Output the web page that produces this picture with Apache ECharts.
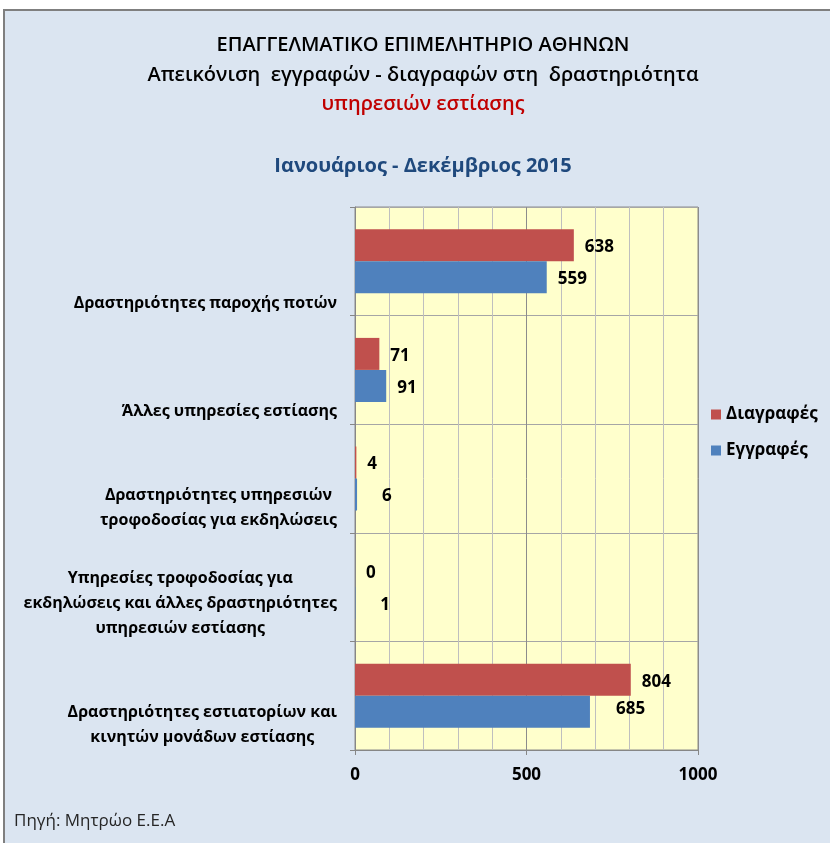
<!DOCTYPE html>
<html>
<head>
<meta charset="utf-8">
<script src="https://cdn.jsdelivr.net/npm/echarts@6/dist/echarts.min.js"></script>
<style>
html,body{margin:0;padding:0;background:#fff;}
#c{width:830px;height:843px;}
</style>
</head>
<body>
<div id="c"></div>
<script>
const categories = [
  'Δραστηριότητες παροχής ποτών',
  'Άλλες υπηρεσίες εστίασης',
  'Δραστηριότητες υπηρεσιών\nτροφοδοσίας για εκδηλώσεις',
  'Υπηρεσίες τροφοδοσίας για\nεκδηλώσεις και άλλες δραστηριότητες\nυπηρεσιών εστίασης',
  'Δραστηριότητες εστιατορίων και\nκινητών μονάδων εστίασης'
];
const seriesNames = ['Διαγραφές', 'Εγγραφές'];
const diagrafes = [638, 71, 4, 0, 804];
const eggrafes = [559, 91, 6, 1, 685];
const xTicks = [0, 500, 1000];

const FONT = 'Open Sans';
// label nudges (style only), mimicking the manually placed labels of the original
const eggLabelNudge = [[0, 0], [0, 0], [14, 0], [14, 0], [15, -5]];

const chart = echarts.init(document.getElementById('c'), null, {renderer: 'canvas'});

const labelStyle = {show: true, position: 'right', distance: 11, fontFamily: FONT, fontSize: 17, fontWeight: 'bold', color: '#000'};

const option = {
  backgroundColor: '#ffffff',
  animation: false,
  textStyle: {fontFamily: FONT},
  graphic: [
    {type: 'rect', z: -10, shape: {x: 4, y: 10, width: 840, height: 850},
     style: {fill: '#DBE5F1', stroke: '#7F7F7F', lineWidth: 2}},
    {type: 'text', x: 423, y: 45, style: {text: 'ΕΠΑΓΓΕΛΜΑΤΙΚΟ ΕΠΙΜΕΛΗΤΗΡΙΟ ΑΘΗΝΩΝ', font: '600 20px "Open Sans"', fill: '#000', align: 'center', verticalAlign: 'middle'}},
    {type: 'text', x: 423, y: 75, style: {text: 'Απεικόνιση  εγγραφών - διαγραφών στη  δραστηριότητα', font: '600 20px "Open Sans"', fill: '#000', align: 'center', verticalAlign: 'middle'}},
    {type: 'text', x: 423, y: 104, style: {text: 'υπηρεσιών εστίασης', font: '600 20px "Open Sans"', fill: '#C00000', align: 'center', verticalAlign: 'middle'}},
    {type: 'text', x: 423, y: 166, style: {text: 'Ιανουάριος - Δεκέμβριος 2015', font: 'bold 20px "Open Sans"', fill: '#1F497D', align: 'center', verticalAlign: 'middle'}},
    {type: 'text', x: 14, y: 821, style: {text: 'Πηγή: Μητρώο Ε.Ε.Α', font: '17px "Open Sans"', fill: '#262626', align: 'left', verticalAlign: 'middle'}}
  ],
  legend: {
    orient: 'vertical', left: 711, top: 403, padding: 0, itemWidth: 10, itemHeight: 10, icon: 'rect', itemGap: 13,
    textStyle: {fontFamily: FONT, fontSize: 17, fontWeight: 'bold', color: '#000', lineHeight: 23},
    data: seriesNames
  },
  grid: {left: 355, top: 207, right: 132, bottom: 93, show: true, backgroundColor: '#FFFFCC', borderColor: '#8C8C8C', borderWidth: 1, containLabel: false},
  xAxis: {
    type: 'value', min: 0, max: 1000, interval: 500,
    axisLine: {show: true, lineStyle: {color: '#868686'}},
    axisTick: {show: true, length: 5, lineStyle: {color: '#868686'}},
    axisLabel: {margin: 17, fontFamily: FONT, fontSize: 17, fontWeight: 'bold', color: '#000',
      formatter: v => xTicks.includes(v) ? String(v) : ''},
    splitLine: {show: true, lineStyle: {color: '#8C8C8C'}},
    minorTick: {show: false, splitNumber: 5},
    minorSplitLine: {show: true, lineStyle: {color: '#BFBFBF'}}
  },
  yAxis: [
    {type: 'category', data: categories, inverse: true,
     axisLine: {show: true, lineStyle: {color: '#868686'}},
     axisTick: {show: true, length: 5, lineStyle: {color: '#868686'}},
     axisLabel: {show: false},
     splitLine: {show: true, lineStyle: {color: '#A6A6A6'}}},
    {type: 'category', data: [''].concat(categories), inverse: true, boundaryGap: false, position: 'left',
     axisLine: {show: false}, axisTick: {show: false}, splitLine: {show: false},
     axisLabel: {interval: 0, margin: 18, align: 'right', verticalAlign: 'bottom',
       formatter: v => v.split('\n').map(l => '{c|' + l + '}').join('\n'),
       rich: {c: {align: 'center', fontFamily: FONT, fontSize: 16, fontWeight: 'bold', color: '#000', lineHeight: 25}}}}
  ],
  series: [
    {name: seriesNames[0], type: 'bar', yAxisIndex: 0, data: diagrafes, barWidth: 32, barGap: '0%',
     itemStyle: {color: '#C0504D'},
     label: Object.assign({offset: [0, 2]}, labelStyle)},
    {name: seriesNames[1], type: 'bar', yAxisIndex: 0, barWidth: 32, barGap: '0%',
     data: eggrafes.map((v, i) => ({value: v, label: {offset: [eggLabelNudge[i][0], eggLabelNudge[i][1] + 2]}})),
     itemStyle: {color: '#4F81BD'},
     label: labelStyle}
  ]
};
chart.setOption(option);
</script>
</body>
</html>
